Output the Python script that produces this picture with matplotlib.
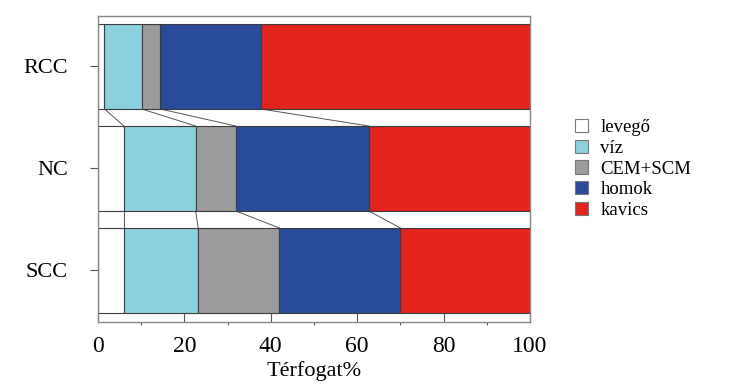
import matplotlib
matplotlib.use("Agg")
import matplotlib.pyplot as plt
import numpy as np
from matplotlib.patches import Patch
from matplotlib.ticker import FixedLocator

plt.rcParams['font.family'] = ['Liberation Serif', 'DejaVu Serif']

categories = ["SCC", "NC", "RCC"]
components = ["levegő", "víz", "CEM+SCM", "homok", "kavics"]
levego = [6.0, 6.0, 1.5]
viz = [17.2, 16.6, 8.6]
cem = [18.8, 9.3, 4.3]
homok = [28.0, 30.8, 23.3]
kavics = [30.0, 37.3, 62.3]
colors = ["#ffffff", "#8ccfdd", "#9b9b9b", "#2a4a9b", "#e2231e"]
xticks = [0, 20, 40, 60, 80, 100]
minor_xticks = [10, 30, 50, 70, 90]

series = [levego, viz, cem, homok, kavics]

fig = plt.figure(figsize=(7.34, 3.85), dpi=100)
ax = fig.add_axes([98/734, 63/385, 432/734, 306/385])

ypos = np.arange(len(categories))
height = 0.833
left = np.zeros(len(categories))
bounds = [left.copy()]
for vals, c in zip(series, colors):
    v = np.array(vals)
    ax.barh(ypos, v, left=left, height=height, color=c,
            edgecolor="#3c3c3c", linewidth=0.8, zorder=2)
    left = left + v
    bounds.append(left.copy())
bounds = np.array(bounds)  # shape (6, ncat)

# connecting lines between consecutive bars
for i in range(len(categories) - 1, 0, -1):
    upper, lower = i, i - 1
    for b in range(bounds.shape[0]):
        ax.plot([bounds[b, upper], bounds[b, lower]],
                [upper - height/2, lower + height/2],
                color="#555555", linewidth=0.7, zorder=1)

ax.set_xlim(0, 100)
ax.set_ylim(-0.505, 2.495)
ax.set_yticks(ypos)
ax.set_yticklabels(categories, fontsize=16)
ax.set_xticks(xticks)
ax.set_xticklabels([str(t) for t in xticks], fontsize=17)
ax.xaxis.set_minor_locator(FixedLocator(minor_xticks))
ax.tick_params(axis='x', which='major', direction='in', length=6.5,
               width=0.8, color="#555555", pad=10)
ax.tick_params(axis='x', which='minor', direction='out', length=2.3,
               width=0.8, color="#555555")
ax.tick_params(axis='y', which='major', direction='out', length=5.8,
               width=0.8, color="#555555", pad=15.8)
for s in ax.spines.values():
    s.set_color("#888888")
    s.set_linewidth(1.0)
ax.set_xlabel("Térfogat%", fontsize=16, labelpad=3)

handles = [Patch(facecolor=c, edgecolor="#777777", linewidth=0.8) for c in colors]
fig.legend(handles, components, loc='center left',
           bbox_to_anchor=(575/734, 1 - 169/385), frameon=False,
           fontsize=13.5, borderpad=0, borderaxespad=0,
           handlelength=0.7, handleheight=0.7, handletextpad=0.65,
           labelspacing=0.2)

fig.savefig("out.png", dpi=100)
